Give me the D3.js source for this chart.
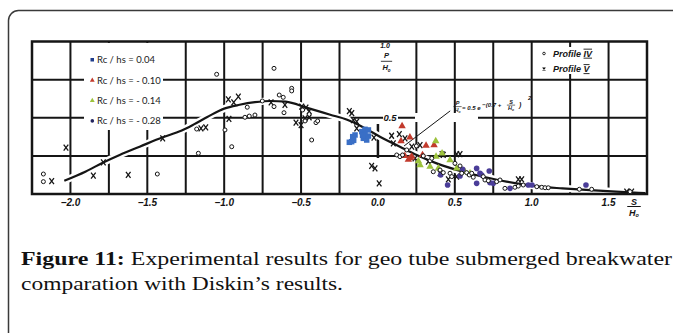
<!DOCTYPE html>
<html>
<head>
<meta charset="utf-8">
<script src="https://cdn.jsdelivr.net/npm/d3@7"></script>
<style>
body { margin: 0; background: #fff; }
svg { display: block; }
</style>
</head>
<body>
<svg id="chart" width="673" height="333"></svg>
<script>
//Tick values
var xTickLabels = [-2.0, -1.5, -1.0, -0.5, 0.0, 0.5, 1.0, 1.5];
var xGridValues = [-2.0, -1.75, -1.5, -1.25, -1.0, -0.75, -0.5, -0.25, 0.25, 0.5, 0.75, 1.0, 1.25, 1.5];
var yGridValues = [0.25, 0.5, 0.75];

//Diskin curve, read point by point
var curveS = [-2.04,-1.90,-1.79,-1.68,-1.55,-1.40,-1.28,-1.20,-1.11,-1.0,-0.90,-0.80,-0.70,-0.60,-0.46,-0.31,-0.20,-0.10,0.013,0.143,0.252,0.382,0.555,0.70,0.836,1.053,1.20,1.379,1.55,1.74];
var curveP = [0.087,0.148,0.205,0.256,0.31,0.372,0.415,0.455,0.505,0.56,0.585,0.602,0.61,0.606,0.565,0.52,0.487,0.44,0.376,0.31,0.256,0.201,0.146,0.11,0.081,0.048,0.037,0.026,0.016,0.006];

//Profile IV (open circles)
var profile4 = [[-2.176,0.131],[-2.176,0.081],[-1.435,0.131],[-1.168,0.267],[-1.179,0.426],[-1.049,0.785],[-0.995,0.42],[-0.951,0.31],
  [-0.676,0.824],[-0.85,0.569],[-0.752,0.61],[-0.676,0.573],[-0.642,0.649],[-0.616,0.634],[-0.561,0.693],[-0.561,0.676],[-0.611,0.533],
  [-0.865,0.503],[-0.837,0.511],[-0.80,0.518],[-0.49,0.551],[-0.474,0.479],[-0.403,0.468],[-0.392,0.479],[-0.431,0.354],
  [0.122,0.256],[0.143,0.245],[0.16,0.256],[0.25,0.315],[0.295,0.25],[0.339,0.218],[0.36,0.146],[0.404,0.157],[0.425,0.14],
  [0.469,0.136],[0.501,0.201],[0.534,0.184],[0.48,0.114],[0.35,0.234],[0.187,0.289],
  [0.545,0.136],[0.577,0.14],[0.594,0.125],[0.61,0.136],[0.62,0.11],[0.685,0.114],[0.696,0.092],[0.718,0.087],[0.772,0.081],
  [0.794,0.092],[0.826,0.037],[0.891,0.044],[0.913,0.052],[0.945,0.059],[1.033,0.048],[1.065,0.044],[1.087,0.041],[1.108,0.041],
  [1.31,0.031],[1.39,0.031],[1.64,0.015]];

//Profile V (x marks)
var profile5 = [[-2.122,0.085],[-2.029,0.304],[-1.851,0.12],[-1.786,0.208],[-1.624,0.125],[-1.40,0.365],[-1.151,0.431],[-1.12,0.437],
  [-0.973,0.621],[-0.938,0.601],[-0.908,0.638],[-0.969,0.492],[-0.695,0.601],[-0.605,0.584],[-0.496,0.573],[-0.468,0.566],
  [-0.447,0.544],[-0.474,0.496],[-0.447,0.503],[-0.533,0.468],[-0.50,0.452],[-0.186,0.544],[-0.17,0.53],[-0.16,0.485],
  [-0.138,0.474],[-0.138,0.431],[-0.026,0.369],[-0.041,0.184],[-0.019,0.168],[0.008,0.07],[0.089,0.382],[0.139,0.392],
  [0.10,0.332],[0.176,0.365],[0.274,0.321],[0.22,0.31],[0.241,0.234],[0.425,0.256],[0.458,0.096],[0.512,0.114],[0.417,0.262],
  [0.512,0.262],[0.534,0.262],[0.328,0.212],[0.404,0.136],[0.913,0.096],[0.935,0.096],[1.618,0.015],[1.65,0.015]];

//Geo tube results
var rc004 = [[-0.186,0.339],[-0.16,0.365],[-0.149,0.387],[-0.164,0.376],[-0.171,0.343],[-0.158,0.352],
  [-0.105,0.409],[-0.084,0.424],[-0.062,0.42],[-0.095,0.365],[-0.073,0.354],[-0.062,0.38],[-0.084,0.395],[-0.1,0.385]];
var rc010 = [[0.157,0.446],[0.15,0.347],[0.208,0.372],[0.313,0.317],[0.365,0.321],[0.29,0.256],[0.22,0.245],[0.198,0.225],[0.21,0.236],[0.175,0.25]];
var rc014 = [[0.376,0.347],[0.263,0.216],[0.274,0.19],[0.339,0.179],[0.378,0.245],[0.393,0.168],[0.512,0.168],[0.566,0.146],[0.469,0.223],[0.417,0.267],[0.599,0.136]];
var rc028 = [[0.453,0.059],[0.408,0.125],[0.534,0.118],[0.551,0.162],[0.642,0.168],[0.664,0.136],[0.675,0.125],[0.724,0.151],
  [0.642,0.07],[0.729,0.074],[0.75,0.07],[0.859,0.037],[0.978,0.059],[1.002,0.059],[1.353,0.059]];

var legendLabels = ["Rc / hs = 0.04", "Rc / hs = - 0.10", "Rc / hs = - 0.14", "Rc / hs = - 0.28"];
var profileLabels = ["Profile ", "Profile "];
var profileNumerals = ["IV", "V"];

var blue = "#3a6fc6";
var red = "#c23a2c";
var green = "#9cc23c";
var purple = "#4a3d98";
var ink = "#151515";

var xScale = d3.scaleLinear()
.domain([-2.25, 1.75])
.range([32, 647]);

var yScale = d3.scaleLinear()
.domain([0, 1])
.range([194, 41.5]);

var svg = d3.select("#chart");

//outer rounded box of the figure
svg.append("rect")
.attr("x", 8.5).attr("y", 10.5)
.attr("width", 720).attr("height", 400)
.attr("rx", 10)
.attr("fill", "none")
.attr("stroke", "#3a3a3a")
.attr("stroke-width", 1.5);

var plot = svg.append("g");

//grid
plot.selectAll(".vgrid")
.data(xGridValues)
.enter()
.append("line")
.attr("class", "vgrid")
.attr("x1", function(d){ return xScale(d); })
.attr("x2", function(d){ return xScale(d); })
.attr("y1", yScale(1))
.attr("y2", yScale(0))
.attr("stroke", ink)
.attr("stroke-width", 2);

plot.selectAll(".hgrid")
.data(yGridValues)
.enter()
.append("line")
.attr("class", "hgrid")
.attr("x1", xScale(-2.25))
.attr("x2", xScale(1.75))
.attr("y1", function(d){ return yScale(d); })
.attr("y2", function(d){ return yScale(d); })
.attr("stroke", ink)
.attr("stroke-width", 2);

//short piece of the P/Ho axis
plot.append("line")
.attr("x1", xScale(0)).attr("x2", xScale(0))
.attr("y1", 124).attr("y2", 158)
.attr("stroke", ink)
.attr("stroke-width", 2.5);

//white patches where the scan has labels over the grid
function blank(x, y, w, h){
    plot.append("rect")
    .attr("x", x).attr("y", y)
    .attr("width", w).attr("height", h)
    .attr("fill", "#fff");
}
blank(84, 43, 79, 87);
blank(383, 113, 15, 9);
blank(415, 113, 63, 9);
blank(550, 47, 52, 27);

//Diskin curve with a white halo
var curveData = curveS.map(function(s, i){ return [s, curveP[i]]; });
var line = d3.line()
.x(function(d){ return xScale(d[0]); })
.y(function(d){ return yScale(d[1]); })
.curve(d3.curveMonotoneX);

plot.append("path")
.attr("d", line(curveData))
.attr("fill", "none")
.attr("stroke", "#fff")
.attr("stroke-width", 7);

plot.append("path")
.attr("d", line(curveData))
.attr("fill", "none")
.attr("stroke", ink)
.attr("stroke-width", 2.2);

//leader from the formula to the curve
plot.append("line")
.attr("x1", xScale(0.47)).attr("y1", yScale(0.545))
.attr("x2", xScale(0.17)).attr("y2", yScale(0.315))
.attr("stroke", ink)
.attr("stroke-width", 1);

//frame
plot.append("rect")
.attr("x", xScale(-2.25)).attr("y", yScale(1))
.attr("width", xScale(1.75) - xScale(-2.25))
.attr("height", yScale(0) - yScale(1))
.attr("fill", "none")
.attr("stroke", ink)
.attr("stroke-width", 2.5);

//markers
var xPath = "M-2.3,-3L2.3,3M2.3,-3L-2.3,3";
var triangle = d3.symbol().type(d3.symbolTriangle).size(24);

function drawCircles(data, r, fill, stroke){
    plot.append("g")
    .selectAll("circle")
    .data(data)
    .enter()
    .append("circle")
    .attr("cx", function(d){ return xScale(d[0]); })
    .attr("cy", function(d){ return yScale(d[1]); })
    .attr("r", r)
    .attr("fill", fill)
    .attr("stroke", stroke)
    .attr("stroke-width", 1);
}

function drawCrosses(data){
    plot.append("g")
    .selectAll("path")
    .data(data)
    .enter()
    .append("path")
    .attr("transform", function(d){ return "translate(" + xScale(d[0]) + "," + yScale(d[1]) + ")"; })
    .attr("d", xPath)
    .attr("stroke", ink)
    .attr("stroke-width", 1.3)
    .attr("fill", "none");
}

function drawSquares(data, size, fill){
    plot.append("g")
    .selectAll("rect")
    .data(data)
    .enter()
    .append("rect")
    .attr("x", function(d){ return xScale(d[0]) - size / 2; })
    .attr("y", function(d){ return yScale(d[1]) - size / 2; })
    .attr("width", size)
    .attr("height", size)
    .attr("fill", fill);
}

function drawTriangles(data, fill){
    plot.append("g")
    .selectAll("path")
    .data(data)
    .enter()
    .append("path")
    .attr("transform", function(d){ return "translate(" + xScale(d[0]) + "," + yScale(d[1]) + ")"; })
    .attr("d", triangle)
    .attr("fill", fill);
}

drawCrosses(profile5);
drawSquares(rc004, 5.5, blue);
drawTriangles(rc010, red);
drawTriangles(rc014, green);
drawCircles(rc028, 2.8, purple, "none");
drawCircles(profile4, 2, "#fff", ink);

//tick labels
var handFont = "'Liberation Sans', Arial, sans-serif";
svg.append("g")
.selectAll("text")
.data(xTickLabels)
.enter()
.append("text")
.attr("x", function(d){ return xScale(d); })
.attr("y", 206)
.attr("text-anchor", "middle")
.attr("font-family", handFont)
.attr("font-size", 10)
.attr("font-weight", "bold")
.attr("font-style", "italic")
.attr("fill", ink)
.text(function(d){ return d3.format(".1f")(d).replace("-", "\u2212"); });

//fraction label helper (S/Ho and P/Ho)
function fraction(x, yTop, top, size, barGap, bottomGap){
    var g = svg.append("g")
    .attr("font-family", handFont)
    .attr("font-weight", "bold")
    .attr("font-style", "italic")
    .attr("font-size", size)
    .attr("fill", ink)
    .attr("text-anchor", "middle");
    g.append("text").attr("x", x).attr("y", yTop).text(top);
    g.append("line")
    .attr("x1", x - size * 0.75).attr("x2", x + size * 0.75)
    .attr("y1", yTop + barGap).attr("y2", yTop + barGap)
    .attr("stroke", ink).attr("stroke-width", size / 9);
    var bottom = g.append("text").attr("x", x).attr("y", yTop + bottomGap);
    bottom.append("tspan").text("H");
    bottom.append("tspan").attr("font-size", size * 0.6).attr("dy", size * 0.2).text("o");
    return g;
}

fraction(634, 204.5, "S", 9, 2, 11);

svg.append("text")
.attr("x", 385).attr("y", 47.5)
.attr("text-anchor", "middle")
.attr("font-family", handFont)
.attr("font-size", 7)
.attr("font-weight", "bold")
.attr("font-style", "italic")
.attr("fill", ink)
.text("1.0");
fraction(386.5, 57.5, "P", 7.5, 3.8, 12.5);

svg.append("text")
.attr("x", 390).attr("y", 121)
.attr("text-anchor", "middle")
.attr("font-family", handFont)
.attr("font-size", 9.5)
.attr("font-weight", "bold")
.attr("font-style", "italic")
.attr("fill", ink)
.text("0.5");

//formula next to the leader
fraction(457.5, 105, "P", 5.5, 1.6, 6.8);
var formula = svg.append("text")
.attr("x", 462).attr("y", 110)
.attr("font-family", handFont)
.attr("font-size", 6)
.attr("font-weight", "bold")
.attr("font-style", "italic")
.attr("fill", ink);
formula.append("tspan").text("= 0.5 e");
formula.append("tspan").attr("dy", -3).text(" \u2212(0.7 + ");
fraction(511, 103.5, "S", 5.5, 1.6, 6.8);
svg.append("text")
.attr("x", 519).attr("y", 107)
.attr("font-family", handFont)
.attr("font-size", 7)
.attr("font-weight", "bold")
.attr("font-style", "italic")
.attr("fill", ink)
.text(")");
svg.append("text")
.attr("x", 528).attr("y", 100)
.attr("font-family", handFont)
.attr("font-size", 6)
.attr("font-weight", "bold")
.attr("font-style", "italic")
.attr("fill", ink)
.text("2");

//left legend
var legendFont = "Lato, 'Liberation Sans', sans-serif";
var legendColors = [blue, red, green, purple];
var legendMarkers = ["square", "triangle", "triangle", "circle"];
var legend = svg.append("g");
legendLabels.forEach(function(label, i){
    var y = 60 + i * 20.3;
    var shape = legendMarkers[i];
    if(shape == "square"){
        legend.append("rect").attr("x", 90.5).attr("y", y - 2).attr("width", 3.5).attr("height", 3.5).attr("fill", "#1f3c8c");
    }
    else if(shape == "triangle"){
        legend.append("path")
        .attr("transform", "translate(92.3," + y + ")")
        .attr("d", d3.symbol().type(d3.symbolTriangle).size(10))
        .attr("fill", legendColors[i]);
    }
    else{
        legend.append("circle").attr("cx", 92.3).attr("cy", y).attr("r", 1.8).attr("fill", "#23245e");
    }
    legend.append("text")
    .attr("x", 97)
    .attr("y", y + 3.3)
    .attr("font-family", legendFont)
    .attr("font-size", 9.5)
    .attr("fill", "#222")
    .text(label);
});

//right legend
profileLabels.forEach(function(label, i){
    var y = 53.5 + i * 15.5;
    if(i == 0){
        svg.append("circle").attr("cx", 544).attr("cy", y).attr("r", 1.3).attr("fill", "none").attr("stroke", ink).attr("stroke-width", 0.9);
    }
    else{
        svg.append("path").attr("transform", "translate(544," + y + ") scale(0.55)").attr("d", xPath).attr("stroke", ink).attr("stroke-width", 2).attr("fill", "none");
    }
    var t = svg.append("text")
    .attr("x", 553)
    .attr("y", y + 3.2)
    .attr("font-family", handFont)
    .attr("font-size", 9)
    .attr("font-weight", "bold")
    .attr("font-style", "italic")
    .attr("fill", ink);
    t.append("tspan").text(label);
    t.append("tspan").style("text-decoration", "underline overline").text(profileNumerals[i]);
});

//caption
var captionFont = "'Liberation Serif', 'Times New Roman', serif";
var cap1 = svg.append("text")
.attr("x", 21)
.attr("y", 265)
.attr("font-family", captionFont)
.attr("font-size", 19.5)
.attr("textLength", 651)
.attr("lengthAdjust", "spacingAndGlyphs")
.attr("fill", "#111");
cap1.append("tspan").attr("font-weight", "bold").text("Figure 11:");
cap1.append("tspan").text(" Experimental results for geo tube submerged breakwater");

svg.append("text")
.attr("x", 21)
.attr("y", 290)
.attr("font-family", captionFont)
.attr("font-size", 19.5)
.attr("textLength", 322)
.attr("lengthAdjust", "spacingAndGlyphs")
.attr("fill", "#111")
.text("comparation with Diskin\u2019s results.");
</script>
</body>
</html>
